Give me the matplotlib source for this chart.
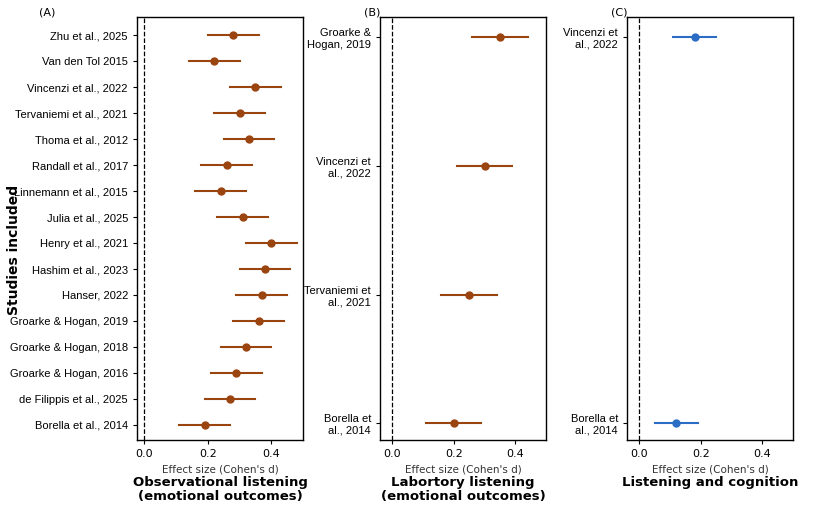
import matplotlib.pyplot as plt

studies_a = ['Zhu et al., 2025', 'Van den Tol 2015', 'Vincenzi et al., 2022', 'Tervaniemi et al., 2021',
             'Thoma et al., 2012', 'Randall et al., 2017', 'Linnemann et al., 2015', 'Julia et al., 2025',
             'Henry et al., 2021', 'Hashim et al., 2023', 'Hanser, 2022', 'Groarke & Hogan, 2019',
             'Groarke & Hogan, 2018', 'Groarke & Hogan, 2016', 'de Filippis et al., 2025', 'Borella et al., 2014']
est_a = [0.28, 0.22, 0.35, 0.30, 0.33, 0.26, 0.24, 0.31, 0.40, 0.38, 0.37, 0.36, 0.32, 0.29, 0.27, 0.19]
lo_a = [0.20, 0.14, 0.27, 0.22, 0.25, 0.18, 0.16, 0.23, 0.32, 0.30, 0.29, 0.28, 0.24, 0.21, 0.19, 0.11]
hi_a = [0.36, 0.30, 0.43, 0.38, 0.41, 0.34, 0.32, 0.39, 0.48, 0.46, 0.45, 0.44, 0.40, 0.37, 0.35, 0.27]

studies_b = ['Groarke &\nHogan, 2019', 'Vincenzi et\nal., 2022', 'Tervaniemi et\nal., 2021', 'Borella et\nal., 2014']
est_b = [0.35, 0.30, 0.25, 0.20]
lo_b = [0.26, 0.21, 0.16, 0.11]
hi_b = [0.44, 0.39, 0.34, 0.29]

studies_c = ['Vincenzi et\nal., 2022', 'Borella et\nal., 2014']
est_c = [0.18, 0.12]
lo_c = [0.11, 0.05]
hi_c = [0.25, 0.19]

brown = '#9a4510'
blue = '#2b6cc4'

fig = plt.figure(figsize=(8.18, 5.18), dpi=100)
panels = [
    (0.1675, -0.023, studies_a, est_a, lo_a, hi_a, brown, 'Observational listening\n(emotional outcomes)', '(A)', 0.70),
    (0.4645, -0.04, studies_b, est_b, lo_b, hi_b, brown, 'Labortory listening\n(emotional outcomes)', '(B)', 0.155),
    (0.7665, -0.04, studies_c, est_c, lo_c, hi_c, blue, 'Listening and cognition', '(C)', 0.155),
]
for left, xmin, names, est, lo, hi, col, title, tag, pad in panels:
    ax = fig.add_axes([left, 0.15, 0.203, 0.817])
    n = len(names)
    if n == 2:
        ys = [3, 0]
        top = 3
    else:
        ys = list(range(n - 1, -1, -1))
        top = n - 1
    for y, e, l, h in zip(ys, est, lo, hi):
        ax.plot([l, h], [y, y], color=col, lw=1.5)
        ax.plot(e, y, 'o', color=col, ms=5)
    ax.axvline(0, color='black', ls='--', lw=0.9)
    ax.set_xlim(xmin, 0.5)
    ax.set_ylim(-pad * 0.85, top + pad)
    ax.set_yticks(ys)
    ax.set_yticklabels(names, fontsize=8, family='Liberation Sans')
    ax.set_xticks([0.0, 0.2, 0.4])
    ax.set_xticklabels(['0.0', '0.2', '0.4'], fontsize=8)
    ax.set_xlabel("Effect size (Cohen's d)", fontsize=7.5, color='#333333')
    ax.tick_params(length=3, width=0.8)
    for s in ax.spines.values():
        s.set_linewidth(1.0)
    ax.text(0.5, -0.085, title, transform=ax.transAxes, ha='center', va='top',
            fontsize=9.5, fontweight='bold', linespacing=1.05)
    fig.text(left - 0.12 if tag == '(A)' else left - 0.02, 0.975, tag, fontsize=8, va='center')
    if tag == '(A)':
        ax.set_ylabel('Studies included', fontsize=10, fontweight='bold', labelpad=4)
        ax.yaxis.set_label_coords(-0.7, 0.45)

fig.savefig('out.png', dpi=100)
